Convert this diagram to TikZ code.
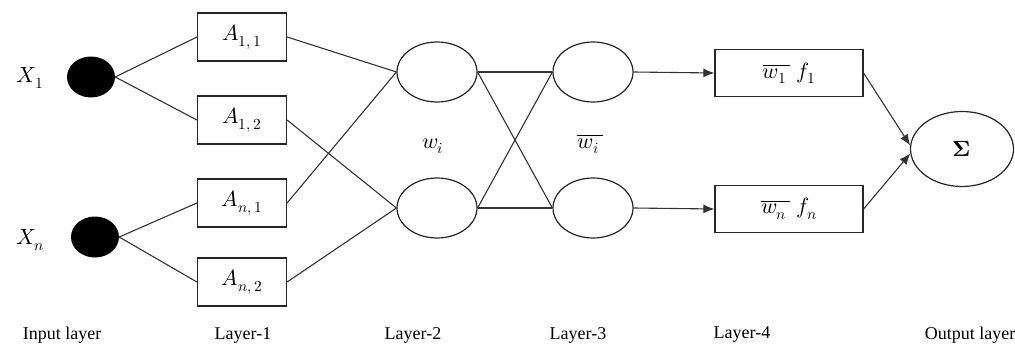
\documentclass[tikz,border=0pt]{standalone}
\usepackage{fontspec}
\usepackage{unicode-math}
\setmainfont{Liberation Serif}
\setmathfont{Latin Modern Math}
\usetikzlibrary{shapes.geometric,arrows.meta}
\begin{document}
\begin{tikzpicture}[x=1pt,y=-1pt,
  every node/.style={font=\fontsize{22}{25}\selectfont},
  abox/.style={draw=black!85, line width=1.2pt, minimum width=89pt, minimum height=48pt, inner sep=0pt},
  fbox/.style={abox, minimum width=148pt, minimum height=47pt},
  ell/.style={draw=black!85, line width=1.2pt, ellipse, minimum width=80pt, minimum height=60pt, inner sep=0pt},
  dot/.style={fill=black, ellipse, minimum width=48pt, minimum height=41pt, inner sep=0pt},
  con/.style={line width=1.1pt, draw=black!80},
  arr/.style={con, -{Latex[length=11pt,width=9pt]}},
  lbl/.style={font=\fontsize{18}{21}\selectfont}]
\useasboundingbox (0,0) rectangle (1015,353);
% input layer
\node[dot] (x1) at (91,77) {};
\node[dot] (xn) at (95,237) {};
\node (lx1) at (30,78) {$X_1$};
\node (lxn) at (30,240) {$X_n$};
% layer 1
\node[abox] (a11) at (242,37) {$A_{1,\,1}$};
\node[abox] (a12) at (242,120) {$A_{1,\,2}$};
\node[abox] (an1) at (242,203) {$A_{n,\,1}$};
\node[abox] (an2) at (242,282) {$A_{n,\,2}$};
% layer 2
\node[ell] (e1) at (437,72) {};
\node[ell] (e2) at (437,208) {};
\node (wi) at (433,146) {$w_i$};
% layer 3
\node[ell] (e3) at (593,72) {};
\node[ell] (e4) at (593,208) {};
\node (wbi) at (590,144) {$\overline{w_i\,}$};
% layer 4
\node[fbox] (f1) at (789,73) {$\overline{w_1\,}\;f_1$};
\node[fbox] (fn) at (789,209) {$\overline{w_n\,}\;f_n$};
% output
\node[ell, minimum width=103pt, minimum height=75pt] (sig) at (962,149) {$\symbf{\Sigma}$};
% connectors
\draw[con] (x1.east) -- (a11.west);
\draw[con] (x1.east) -- (a12.west);
\draw[con] (xn.east) -- (an1.west);
\draw[con] (xn.east) -- (an2.west);
\draw[con] (a11.east) -- (e1.west);
\draw[con] (an1.east) -- (e1.west);
\draw[con] (a12.east) -- (e2.west);
\draw[con] (an2.east) -- (e2.west);
\draw[con] (e1.east) -- (e3.west);
\draw[con] (e1.east) -- (e4.west);
\draw[con] (e2.east) -- (e3.west);
\draw[con] (e2.east) -- (e4.west);
\draw[arr] (e3.east) -- (f1.west);
\draw[arr] (e4.east) -- (fn.west);
\draw[arr] (f1.east) -- (sig.176);
\draw[arr] (fn.east) -- (sig.185);
% bottom labels
\node[lbl] (l0) at (62,335) {Input layer};
\node[lbl] (l1) at (243,335) {Layer-1};
\node[lbl] (l2) at (413,335) {Layer-2};
\node[lbl] (l3) at (578,335) {Layer-3};
\node[lbl] (l4) at (742,335) {Layer-4};
\node[lbl] (l5) at (970,335) {Output layer};
\end{tikzpicture}
\end{document}
